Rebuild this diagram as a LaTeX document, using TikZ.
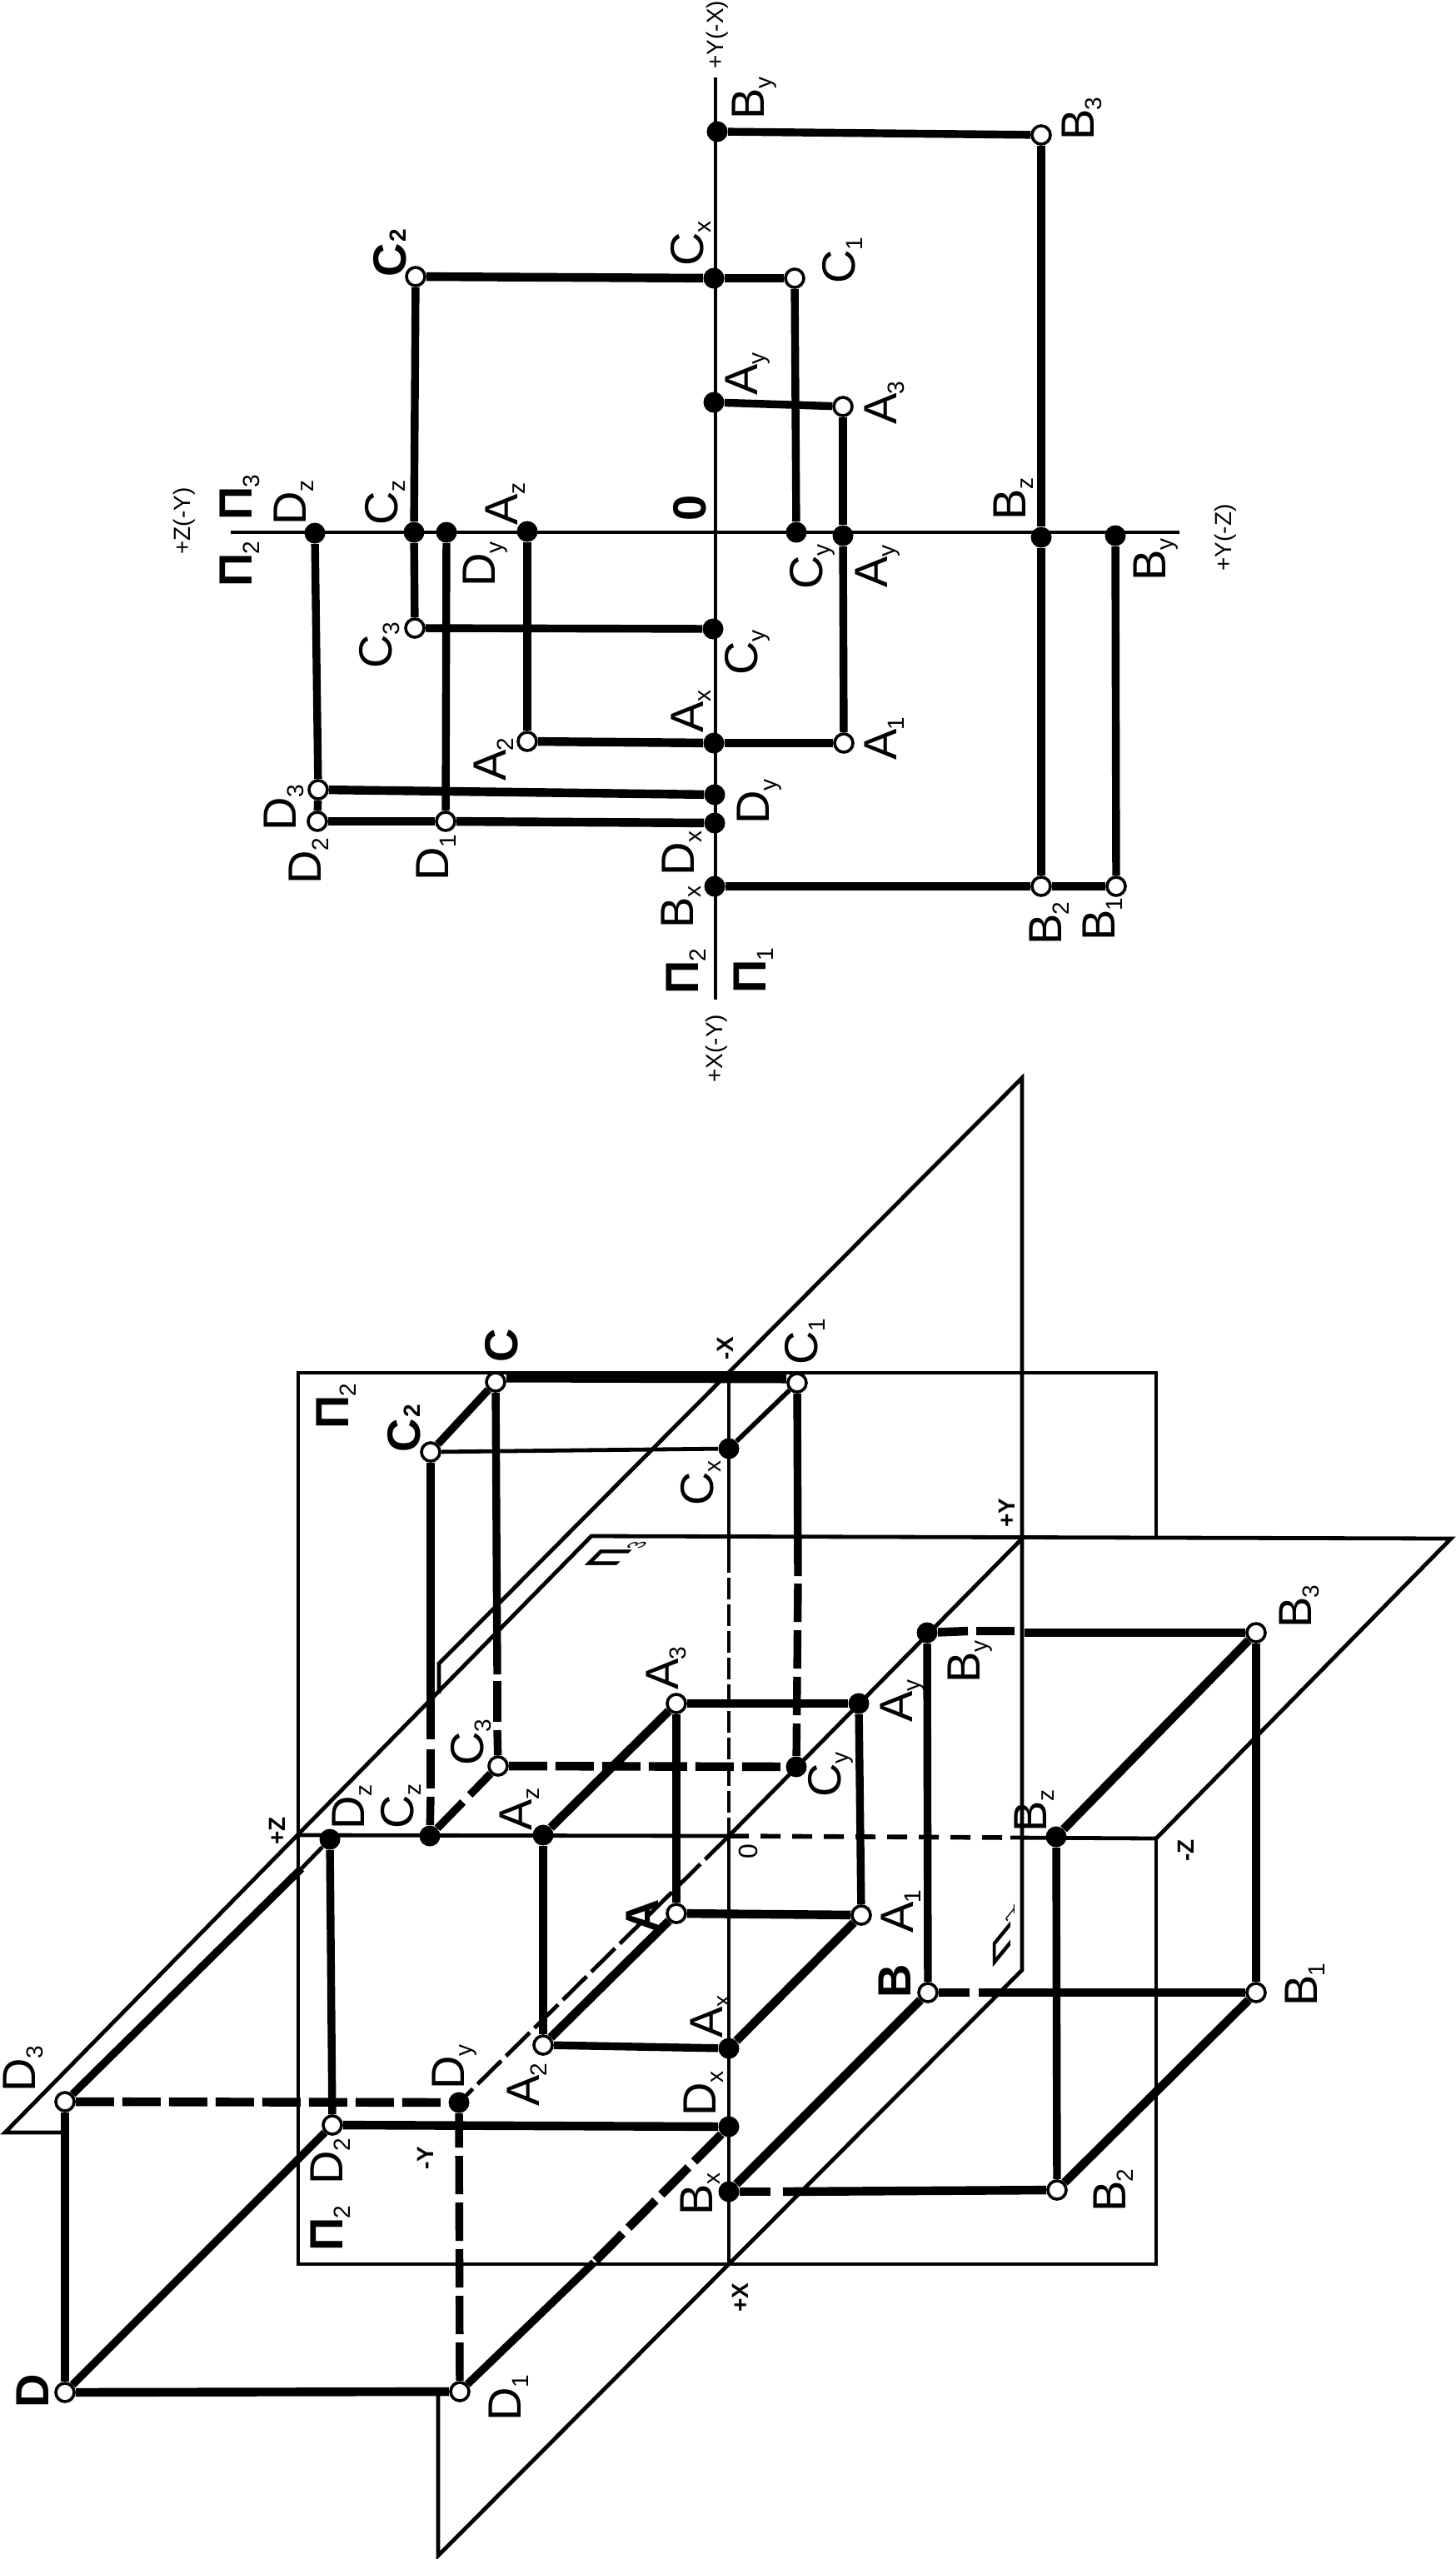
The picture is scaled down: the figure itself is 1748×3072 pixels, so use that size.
\documentclass[tikz,border=0pt]{standalone}
\usepackage{fontspec}
\setmainfont{Liberation Sans}
\newcommand{\ix}[1]{\raisebox{-4.5pt}{\fontsize{14}{14}\selectfont #1}}
\newcommand{\id}[1]{\kern-.4pt\raisebox{-4.5pt}{\fontsize{14}{14}\selectfont #1}}
\newcommand{\iy}[1]{\kern.6pt{\fontsize{14}{14}\selectfont #1}}
\tikzset{
	pto/.style={circle,draw,fill=white,line width=1.8pt,minimum size=11pt,inner sep=0pt},
	ptc/.style={circle,fill=black,minimum size=12.5pt,inner sep=0pt},
	lab/.style={yshift=-1.5pt,rotate=90,anchor=base west,inner sep=0pt,font=\fontsize{28}{30}\selectfont},
	labb/.style={lab,font=\fontsize{28}{30}\selectfont\bfseries},
	labs/.style={lab,font=\fontsize{14}{16}\selectfont},
	labt/.style={lab,font=\fontsize{14}{16}\selectfont\bfseries},
	tline/.style={line width=2.4pt},
	mline/.style={line width=2.8pt},
	kline/.style={line width=4.7pt},
	hline/.style={line width=5.2pt},
	dsh/.style={dash pattern=on 23pt off 5pt},
	dshthin/.style={dash pattern=on 13pt off 3pt},
}
\begin{document}
\begin{tikzpicture}[x=.5pt,y=-.5pt]
\useasboundingbox (0,0) rectangle (1748,3072);

% epure, axes
\coordinate (axT) at (859,93); \coordinate (axB) at (859,1200);
\coordinate (axL) at (277,639); \coordinate (axR) at (1416,639);
\draw [tline] (axT) -- (axB); \draw [tline] (axL) -- (axR);

\node [ptc] (eBy) at (861,158) {}; \node [pto] (eB3) at (1250,162) {};
\node [ptc] (eCx) at (857,334) {}; \node [pto] (eC1) at (954,334) {}; \node [pto] (eC2) at (499,332) {};
\node [ptc] (eAy) at (857,483) {}; \node [pto] (eA3) at (1012,488) {};
\node [ptc] (eDz) at (378,640) {}; \node [ptc] (eCz) at (497,639) {}; \node [ptc] (eDyh) at (536,639) {};
\node [ptc] (eAz) at (633,638) {}; \node [ptc] (eCyh) at (956,639) {}; \node [ptc] (eAyh) at (1012,643) {};
\node [ptc] (eBz) at (1250,645) {}; \node [ptc] (eByh) at (1339,643) {};
\node [pto] (eC3) at (498,754) {}; \node [ptc] (eCy) at (856,755) {};
\node [pto] (eA2) at (633,890) {}; \node [ptc] (eAx) at (857,892) {}; \node [pto] (eA1) at (1013,892) {};
\node [pto] (eD3) at (382,948) {}; \node [ptc] (eDy) at (858,954) {};
\node [pto] (eD2) at (381,986) {}; \node [pto] (eD1) at (535,986) {}; \node [ptc] (eDx) at (858,988) {};
\node [ptc] (eBx) at (858,1064) {}; \node [pto] (eB2) at (1250,1064) {}; \node [pto] (eB1) at (1340,1064) {};

\draw [kline] (eBy) -- (eB3); \draw [hline] (eB3) -- (eBz); \draw [hline] (eBz) -- (eB2);
\draw [kline] (eByh) -- (eB1); \draw [hline] (eBx) -- (eB2); \draw [hline] (eB2) -- (eB1);
\draw [hline] (eC2) -- (eCx); \draw [hline] (eCx) -- (eC1); \draw [kline] (eC1) -- (eCyh);
\draw [kline] (eC2) -- (eCz); \draw [kline] (eCz) -- (eC3); \draw [kline] (eC3) -- (eCy);
\draw [kline] (eAy) -- (eA3); \draw [kline] (eA3) -- (eAyh); \draw [kline] (eAyh) -- (eA1);
\draw [hline] (eA1) -- (eAx); \draw [hline] (eAx) -- (eA2); \draw [kline] (eA2) -- (eAz);
\draw [kline] (eDz) -- (eD3); \draw [kline] (eD3) -- (eD2); \draw [hline] (eD3) -- (eDy);
\draw [hline] (eD2) -- (eD1); \draw [hline] (eD1) -- (eDx); \draw [kline] (eD1) -- (eDyh);

\node [labs] (tYX) at (868,80) {+Y(-X)};
\node [lab] (tBy) at (917,141) {B\ix{y}};
\node [lab] (tB3) at (1313,166) {B\id{3}};
\node [lab] (tCx) at (844,317) {C\ix{x}};
\node [lab] (tC1) at (1026,338) {C\id{1}};
\node [labb] (tC2) at (487,330) {C\iy{2}};
\node [lab] (tAy) at (909,472) {A\ix{y}};
\node [lab] (tA3) at (1076,507) {A\id{3}};
\node [labb] (tPi3) at (302,622) {П\id{\mdseries 3}};
\node [labb] (tPi2) at (302,702) {П\id{\mdseries 2}};
\node [labs] (tZY) at (228,663) {+Z(-Y)};
\node [lab] (tDz) at (367,628) {D\ix{z}};
\node [lab] (tCz) at (477,628) {C\ix{z}};
\node [lab] (tAz) at (621,628) {A\ix{z}};
\node [labb] (tO) at (847,623) {0};
\node [lab] (tDyh) at (594,702) {D\ix{y}};
\node [lab] (tCyh) at (987,705) {C\ix{y}};
\node [lab] (tAyh) at (1065,703) {A\ix{y}};
\node [lab] (tBz) at (1231,622) {B\ix{z}};
\node [lab] (tByh) at (1399,695) {B\ix{y}};
\node [labs] (tYZ) at (1478,683) {+Y(-Z)};
\node [lab] (tC3) at (470,800) {C\id{3}};
\node [lab] (tCy) at (909,808) {C\ix{y}};
\node [lab] (tAx) at (844,877) {A\ix{x}};
\node [lab] (tA2) at (607,935) {A\id{2}};
\node [lab] (tA1) at (1076,910) {A\id{1}};
\node [lab] (tD3) at (355,995) {D\id{3}};
\node [lab] (tDy) at (923,987) {D\ix{y}};
\node [lab] (tD2) at (385,1059) {D\id{2}};
\node [lab] (tD1) at (538,1055) {D\id{1}};
\node [lab] (tDx) at (833,1049) {D\ix{x}};
\node [lab] (tBx) at (832,1112) {B\ix{x}};
\node [lab] (tB2) at (1274,1132) {B\id{2}};
\node [lab] (tB1) at (1338,1127) {B\id{1}};
\node [labb] (tPib) at (838,1191) {П\id{\mdseries 2}};
\node [labb] (tPia) at (919,1190) {П\id{\mdseries 1}};
\node [labs] (tXY) at (867,1297) {+X(-Y)};

% frame
\coordinate (r1) at (358,1648); \coordinate (r2) at (1388,1648); \coordinate (r3) at (1388,1845);
\coordinate (r4) at (1388,2207); \coordinate (r5) at (1388,2718); \coordinate (r6) at (358,2718);
\draw [tline] (r3) -- (r2) -- (r1) -- (r6) -- (r5) -- (r4);

% slanted plane with vertical sides
\coordinate (h1) at (1227,1294); \coordinate (h2) at (527,1997); \coordinate (h3) at (527,2033);
\coordinate (h4) at (526,2872); \coordinate (h5) at (526,3068); \coordinate (h6) at (1227,2365);
\draw [tline] (h3) -- (h2) -- (h1) -- (h6) -- (h5) -- (h4);

% plane with the horizontal top edge
\coordinate (s1) at (710,1844); \coordinate (s2) at (1742,1847); \coordinate (s3) at (1388,2207);
\coordinate (s4) at (6,2560); \coordinate (s5) at (78,2560);
\draw [tline] (s3) -- (s2) -- (s1) -- (s4) -- (s5);

% axes
\coordinate (zL) at (358,2203); \coordinate (oo) at (875,2204); \coordinate (zB) at (1213,2206);
\coordinate (xT) at (875,1647); \coordinate (xM) at (875,1862); \coordinate (xB) at (875,2718);
\coordinate (yT) at (1228,1846); \coordinate (yE) at (551,2524);
\draw [tline] (zL) -- (oo); \draw [mline,dash pattern=on 12pt off 7pt] (oo) -- (zB); \draw [tline] (zB) -- (r4);
\draw [tline] (xT) -- (xM); \draw [tline,dshthin] (xM) -- (oo); \draw [tline] (oo) -- (xB);
\draw [tline] (yT) -- (oo); \draw [tline,dash pattern=on 20pt off 4pt] (oo) -- (yE);

\node [pto] (C) at (595,1659) {}; \node [pto] (C1) at (957,1660) {}; \node [pto] (C2) at (517,1743) {};
\node [ptc] (Cx) at (875,1739) {}; \node [pto] (C3) at (598,2120) {}; \node [ptc] (Cy) at (956,2121) {};
\node [ptc] (Cz) at (516,2204) {}; \node [ptc] (Dz) at (396,2208) {}; \node [ptc] (Az) at (652,2203) {};
\node [pto] (A3) at (812,2045) {}; \node [ptc] (Ay) at (1031,2045) {}; \node [pto] (A) at (812,2297) {};
\node [pto] (A1) at (1034,2299) {}; \node [pto] (A2) at (652,2455) {}; \node [ptc] (Ax) at (875,2459) {};
\node [ptc] (By) at (1113,1960) {}; \node [pto] (B3) at (1508,1960) {}; \node [ptc] (Bz) at (1268,2205) {};
\node [pto] (B) at (1114,2392) {}; \node [pto] (B1) at (1508,2392) {}; \node [pto] (B2) at (1269,2629) {};
\node [ptc] (Bx) at (875,2631) {}; \node [pto] (D3) at (78,2523) {}; \node [ptc] (Dy) at (551,2524) {};
\node [pto] (D2) at (399,2551) {}; \node [ptc] (Dx) at (875,2553) {}; \node [pto] (D) at (78,2872) {};
\node [pto] (D1) at (552,2871) {};

% point C
\coordinate (cc1) at (597,2010); \coordinate (cc2) at (597,2018); \coordinate (cc3) at (597,2067); \coordinate (cc4) at (597,2077);
\coordinate (cz1) at (517,2088); \coordinate (cz2) at (517,2100); \coordinate (cz3) at (517,2147); \coordinate (cz4) at (517,2157);
\coordinate (cy1) at (958,1892); \coordinate (cy2) at (958,1901);
\draw [line width=6.5pt] ([yshift=3pt]C.east) -- ([yshift=3pt]C1.west);
\draw [kline] (C) -- (C2); \draw [tline] (C2) -- (Cx); \draw [mline] (Cx) -- (C1);
\draw [kline] (C) -- (cc1); \draw [kline] (cc2) -- (cc3); \draw [kline] (cc4) -- (C3);
\draw [kline] (C2) -- (cz1); \draw [kline] (cz2) -- (cz3); \draw [kline] (cz4) -- (Cz);
\draw [kline] (C1) -- (cy1); \draw [kline,dsh] (cy2) -- (Cy);
\draw [hline,dsh] (C3) -- (Cy); \draw [kline,dash pattern=on 22pt off 6pt] (Cz) -- (C3);

% point A
\draw [hline] (A3) -- (Ay); \draw [kline] (A3) -- (A); \draw [kline] (Ay) -- (A1);
\draw [hline] (A3) -- (Az); \draw [hline] (A) -- (A1); \draw [hline] (A) -- (A2);
\draw [hline] (A1) -- (Ax); \draw [kline] (A2) -- (Ax); \draw [kline] (Az) -- (A2);

% point B
\coordinate (by1) at (1162,1958); \coordinate (by2) at (1172,1958); \coordinate (by3) at (1218,1958); \coordinate (by4) at (1230,1960);
\coordinate (bb1) at (1164,2392); \coordinate (bb2) at (1175,2392);
\coordinate (bx1) at (925,2631); \coordinate (bx2) at (940,2631);
\draw [hline] (By) -- (by1); \draw [hline] (by2) -- (by3); \draw [hline] (by4) -- (B3);
\draw [kline] (By) -- (B); \draw [kline] (B3) -- (B1); \draw [hline] (B3) -- (Bz); \draw [kline] (Bz) -- (B2);
\draw [hline] (B) -- (bb1); \draw [hline] (bb2) -- (B1); \draw [hline] (B) -- (Bx);
\draw [hline] (Bx) -- (bx1); \draw [hline] (bx2) -- (B2); \draw [hline] (B1) -- (B2);

% point D
\coordinate (dd1) at (362,2243); \coordinate (dx1) at (713,2716);
\draw [kline] (D3) -- (dd1); \draw [tline] (dd1) -- (Dz);
\draw [kline] (Dz) -- (D2); \draw [hline,dsh] (D3) -- (Dy); \draw [hline] (D2) -- (Dx);
\draw [kline] (D2) -- (D); \draw [kline] (D3) -- (D); \draw [hline] (D) -- (D1);
\draw [kline,dsh] (D1) -- (Dy); \draw [kline] (D1) -- (dx1); \draw [hline,dsh] (Dx) -- (dx1);

\node [labt] (lX) at (880,1630) {-X};
\node [labb] (lC) at (621,1633) {C};
\node [lab] (lC1) at (981,1636) {C\id{1}};
\node [labb] (lPi2) at (418,1713) {П\id{\mdseries 2}};
\node [labb] (lC2) at (504,1741) {C\iy{2}};
\node [lab] (lCx) at (856,1805) {C\ix{x}};
\node [labt] (lY) at (1218,1831) {+Y};
\begin{scope}[shift={(735,1882)},cm={.57,.57,-1,0,(0,0)}]
\node [labb,rotate=-90,transform shape] (lPi3) at (0,0) {П\id{\mdseries 3}};
\end{scope}
\node [lab] (lB3) at (1574,1952) {B\id{3}};
\node [lab] (lBy) at (1176,2018) {B\ix{y}};
\node [lab] (lA3) at (814,2026) {A\id{3}};
\node [lab] (lAy) at (1095,2065) {A\ix{y}};
\node [lab] (lC3) at (580,2117) {C\id{3}};
\node [lab] (lCy) at (1009,2155) {C\ix{y}};
\node [lab] (lBz) at (1256,2197) {B\ix{z}};
\node [lab] (lDz) at (437,2194) {D\ix{z}};
\node [lab] (lCz) at (496,2193) {C\ix{z}};
\node [lab] (lAz) at (638,2195) {A\ix{z}};
\node [labt] (lZ) at (342,2212) {+Z};
\node [lab,font=\fontsize{16}{16}\selectfont] (lO) at (909,2229) {0};
\node [labt] (lZm) at (1433,2232) {-Z};
\node [labb] (lA) at (790,2318) {A};
\node [lab] (lA1) at (1096,2318) {A\id{1}};
\node [labb] (lB) at (1093,2396) {B};
\node [lab] (lB1) at (1581,2406) {B\id{1}};
\begin{scope}[shift={(1212,2342)},cm={0,.9,-.55,-.67,(0,0)}]
\node [labb,rotate=-90,transform shape] (lPi1) at (0,0) {П\id{\mdseries 1}};
\end{scope}
\node [lab] (lAx) at (867,2444) {A\ix{x}};
\node [lab] (lA2) at (647,2526) {A\id{2}};
\node [lab] (lDy) at (557,2506) {D\ix{y}};
\node [lab] (lD3) at (42,2509) {D\id{3}};
\node [lab] (lDx) at (859,2538) {D\ix{x}};
\node [labt] (lYm) at (520,2602) {-Y};
\node [lab] (lD2) at (411,2620) {D\id{2}};
\node [lab] (lBx) at (855,2657) {B\ix{x}};
\node [lab] (lB2) at (1351,2653) {B\id{2}};
\node [labb] (lPi2b) at (411,2700) {П\id{\mdseries 2}};
\node [labt] (lXp) at (898,2773) {+X};
\node [labb] (lD) at (58,2888) {D};
\node [lab] (lD1) at (625,2904) {D\id{1}};
\end{tikzpicture}
\end{document}
